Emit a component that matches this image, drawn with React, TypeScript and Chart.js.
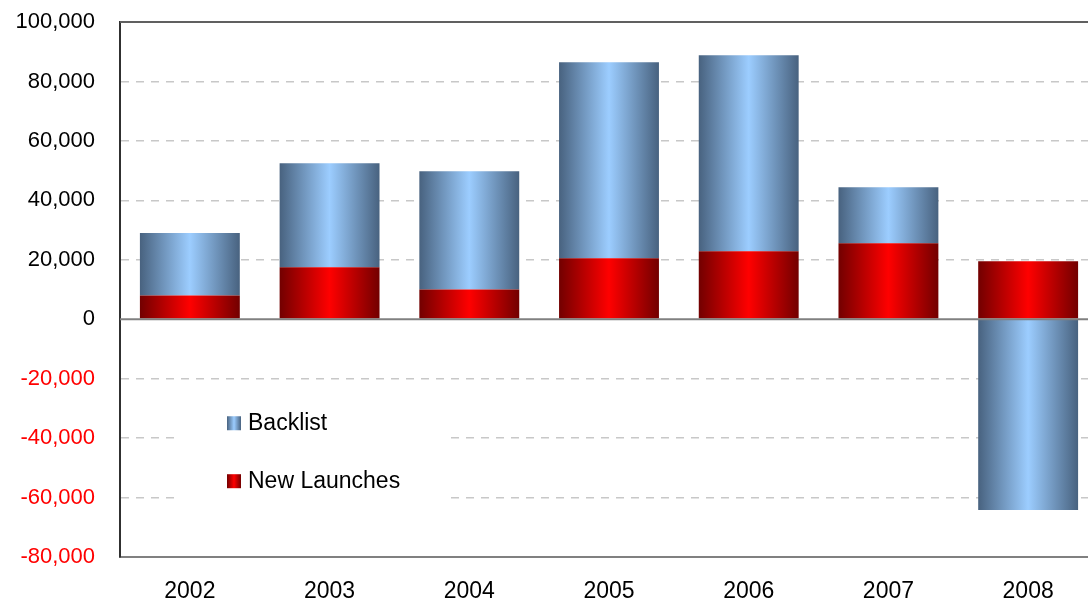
import React, { useEffect, useRef } from "react";
import { Chart, registerables } from "chart.js";

Chart.register(...registerables);

const categories = ["2002", "2003", "2004", "2005", "2006", "2007", "2008"];
const newLaunches = [8000, 17500, 10000, 20500, 22900, 25600, 19500];
const backlist = [21000, 35000, 39800, 66000, 65900, 18800, -64200];
const yTicks = [100000, 80000, 60000, 40000, 20000, 0, -20000, -40000, -60000, -80000];

const BAR_PCT = 0.715;
const FONT = "'Liberation Sans', Arial, sans-serif";

const BLUE: [string, string] = ["#48627f", "#9ccdff"];
const RED: [string, string] = ["#720000", "#ff0000"];

function makeGrad(ctx: CanvasRenderingContext2D, x0: number, x1: number, c: [string, string]) {
  const g = ctx.createLinearGradient(x0, 0, x1, 0);
  g.addColorStop(0, c[0]);
  g.addColorStop(0.5, c[1]);
  g.addColorStop(1, c[0]);
  return g;
}

function barGradient(c: [string, string]) {
  return (ctx: any) => {
    const chart = ctx.chart;
    const xs = chart.scales && chart.scales.x;
    if (!xs || ctx.dataIndex === undefined || !xs.width) return c[1];
    const center = xs.getPixelForValue(ctx.dataIndex);
    const w = (xs.width / categories.length) * BAR_PCT;
    return makeGrad(chart.ctx, center - w / 2, center + w / 2, c);
  };
}

const overlayPlugin = {
  id: "overlay",
  afterDatasetsDraw(chart: any) {
    const { ctx, chartArea, scales } = chart;
    const y0 = scales.y.getPixelForValue(0);
    ctx.save();
    ctx.strokeStyle = "#808080";
    ctx.lineWidth = 2;
    ctx.beginPath();
    ctx.moveTo(chartArea.left, y0);
    ctx.lineTo(chartArea.right, y0);
    ctx.stroke();
    ctx.strokeStyle = "#606060";
    ctx.beginPath();
    ctx.moveTo(chartArea.left, chartArea.top);
    ctx.lineTo(chartArea.right, chartArea.top);
    ctx.stroke();
    const lx = chartArea.left + 60;
    const ly = scales.y.getPixelForValue(-22000);
    ctx.fillStyle = "#ffffff";
    ctx.fillRect(lx, ly, 265, 135);
    const items = [
      { label: "Backlist", c: BLUE, v: -35000 },
      { label: "New Launches", c: RED, v: -54500 },
    ];
    ctx.font = `23px ${FONT}`;
    ctx.textBaseline = "middle";
    ctx.textAlign = "left";
    for (const it of items) {
      const cy = scales.y.getPixelForValue(it.v);
      const mx = chartArea.left + 107;
      ctx.fillStyle = makeGrad(ctx, mx, mx + 14, it.c);
      ctx.fillRect(mx, cy - 7, 14, 14);
      ctx.fillStyle = "#000000";
      ctx.fillText(it.label, mx + 21, cy);
    }
    ctx.restore();
  },
};

export default function App() {
  const ref = useRef<HTMLCanvasElement>(null);
  useEffect(() => {
    document.body.style.margin = "0";
    const chart = new Chart(ref.current!, {
      type: "bar",
      data: {
        labels: categories,
        datasets: [
          {
            label: "New Launches",
            data: newLaunches,
            backgroundColor: barGradient(RED),
            barPercentage: BAR_PCT,
            categoryPercentage: 1,
          },
          {
            label: "Backlist",
            data: backlist,
            backgroundColor: barGradient(BLUE),
            barPercentage: BAR_PCT,
            categoryPercentage: 1,
          },
        ],
      },
      options: {
        animation: false,
        responsive: true,
        maintainAspectRatio: false,
        layout: { padding: { top: 22, left: 0, right: 0, bottom: 0 } },
        plugins: { legend: { display: false }, tooltip: { enabled: false } },
        scales: {
          x: {
            stacked: true,
            afterFit: (s: any) => {
              s.height = 46;
            },
            grid: { display: false, drawTicks: false },
            border: { display: true, color: "#808080", width: 2 },
            ticks: {
              color: "#000000",
              font: { family: FONT, size: 23 },
              padding: 21,
            },
          },
          y: {
            stacked: true,
            min: -80000,
            max: 100000,
            afterFit: (s: any) => {
              s.width = 120;
              s.paddingTop = 0;
              s.paddingBottom = 0;
            },
            afterBuildTicks: (s: any) => {
              s.ticks = yTicks.map((v) => ({ value: v }));
            },
            grid: {
              drawTicks: false,
              color: (c: any) =>
                c.tick && (c.tick.value === 0 || c.tick.value === 100000 || c.tick.value === -80000)
                  ? "rgba(0,0,0,0)"
                  : "#c8c8c8",
              lineWidth: 1.5,
            },
            border: { display: true, color: "#303030", width: 2, dash: [8, 7] },
            ticks: {
              padding: 25,
              font: { family: FONT, size: 22 },
              color: (c: any) => (c.tick && c.tick.value < 0 ? "#ff0000" : "#000000"),
              callback: (v: any) => Number(v).toLocaleString("en-US"),
            },
          },
        },
      },
      plugins: [overlayPlugin],
    });
    return () => chart.destroy();
  }, []);
  return (
    <div style={{ width: 1088, height: 603, overflow: "hidden", position: "relative" }}>
      <div style={{ width: 1098, height: 603, position: "relative" }}>
        <canvas ref={ref} />
      </div>
    </div>
  );
}
